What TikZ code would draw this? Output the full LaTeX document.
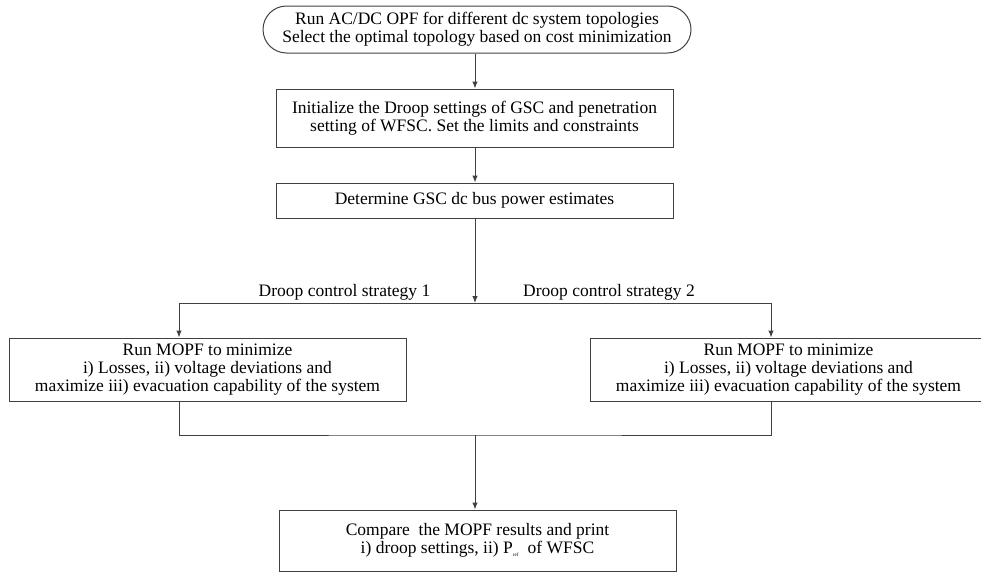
\documentclass[tikz,border=0pt]{standalone}
\usepackage{fontspec}
\setmainfont{Liberation Serif}
\usetikzlibrary{arrows.meta,shapes.misc}
\definecolor{trait}{rgb}{0.25,0.25,0.25}

\begin{document}
\begin{tikzpicture}[x=1pt,y=-1pt]
	\tikzstyle{bloc}=[rectangle, draw=trait, line width=1pt, align=center, inner sep=2pt, text=black, font=\fontsize{17.5}{18}\selectfont, minimum width=397pt]
	\tikzstyle{debut}=[bloc, rounded rectangle, minimum width=432pt]
	\tikzstyle{lien}=[draw=trait, line width=1pt]
	\tikzstyle{fleche}=[lien, -{Latex[length=7pt,width=5.5pt]}]
	\tikzstyle{etiq}=[font=\fontsize{17.5}{18}\selectfont, text=black]

	\useasboundingbox (0,0) rectangle (981,573);

	% BLOCS
	\node[debut, minimum height=47pt] (Topo) at (477,29.5) {Run AC/DC OPF for different dc system topologies\\Select the optimal topology based on cost minimization};
	\node[bloc, minimum height=58pt] (Init) at (474.5,118) {Initialize the Droop settings of GSC and penetration\\setting of WFSC. Set the limits and constraints};
	\node[bloc, minimum height=35pt] (Est) at (474.5,200.5) {Determine GSC dc bus power estimates};
	\node[bloc, minimum height=63pt] (Mopf1) at (207.5,369.5) {Run MOPF to minimize\\i) Losses, ii) voltage deviations and\\maximize iii) evacuation capability of the system};
	\node[bloc, minimum height=63pt] (Mopf2) at (788.5,369.5) {Run MOPF to minimize\\i) Losses, ii) voltage deviations and\\maximize iii) evacuation capability of the system};
	\node[bloc, minimum height=61pt] (Comp) at (477.5,540.5) {Compare~ the MOPF results and print\\i) droop settings, ii) P\textsubscript{\tiny ref}\ \ of WFSC};

	% ETIQUETTES
	\node[etiq] (Strat1) at (344.5,292) {Droop control strategy 1};
	\node[etiq] (Strat2) at (609,292) {Droop control strategy 2};

	% POINTS DE JONCTION
	\coordinate (Split) at (475,303);
	\coordinate (SplitG) at (179,303);
	\coordinate (SplitD) at (771,303);
	\coordinate (Merge) at (475,435);

	% FLECHES
	\draw[fleche] (Topo.south -| Split) -- (Init.north -| Split);
	\draw[fleche] (Init.south -| Split) -- (Est.north -| Split);
	\draw[fleche] (Est.south -| Split) -- (Split);
	\draw[lien] (SplitG) -- (SplitD);
	\draw[fleche] (SplitG) -- (Mopf1.north -| SplitG);
	\draw[fleche] (SplitD) -- (Mopf2.north -| SplitD);
	\draw[lien] (Mopf1.south -| SplitG) |- (Merge) -| (Mopf2.south -| SplitD);
	\draw[fleche] (Merge) -- (Comp.north -| Merge);
\end{tikzpicture}
\end{document}
